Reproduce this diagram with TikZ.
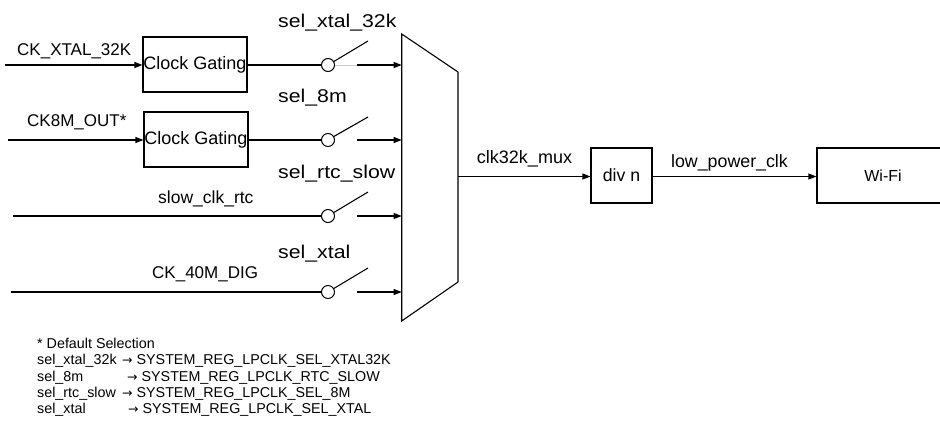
\documentclass[tikz,border=0pt]{standalone}
\usepackage{fontspec}
\setmainfont{Liberation Sans}
\newfontfamily\symfont{DejaVu Sans}
\usetikzlibrary{arrows.meta}
\newcommand{\fsz}[1]{\fontsize{#1}{#1}\selectfont}
\newcommand{\selw}[1]{\scalebox{1.15}[1]{#1}}
\newcommand{\rarr}{{\symfont\fontsize{12.5}{12.5}\selectfont →}}
\tikzset{
  wire/.style={line width=1.1pt},
  arr/.style={wire,-{Triangle[length=8pt,width=6pt]}},
  blk/.style={draw,line width=1.1pt,inner sep=0pt,minimum height=55pt},
  swc/.style={draw,circle,line width=1pt,minimum size=13pt,inner sep=0pt,fill=white},
  lbl/.style={anchor=base west,inner sep=0pt},
  clbl/.style={anchor=base,inner sep=0pt},
}
\begin{document}
\begin{tikzpicture}[x=1pt,y=-1pt]
\clip (0,0) rectangle (940,437);
\fill[white] (0,0) rectangle (940,437);

% blocks
\node[blk,minimum width=104pt,font=\fsz{18}] (cg1) at (195,64.5) {Clock Gating};
\node[blk,minimum width=104pt,font=\fsz{18}] (cg2) at (196,139.5) {Clock Gating};
\node[blk,minimum width=61pt,font=\fsz{17.7}] (div) at (621.5,175.5) {div n};
\node[blk,minimum width=132pt,font=\fsz{16}] (wifi) at (883,175.5) {Wi-Fi};

% mux
\coordinate (m1) at (401.7,34);
\coordinate (m2) at (458,72);
\coordinate (m3) at (458,282);
\coordinate (m4) at (401.7,321);
\draw[wire,line join=miter] (m1) -- (m2) -- (m3) -- (m4) -- cycle;

% input coordinates
\coordinate (in1) at (5,65);
\coordinate (in2) at (8,140);
\coordinate (in3) at (13,216);
\coordinate (in4) at (11,292);

% switches
\node[swc] (sw1) at (328,65) {};
\node[swc] (sw2) at (328,140) {};
\node[swc] (sw3) at (328,216) {};
\node[swc] (sw4) at (328,292) {};
\coordinate (a1) at (368,41);
\coordinate (a2) at (368,117);
\coordinate (a3) at (368,192);
\coordinate (a4) at (368,268);
\coordinate (g1) at (357,65);
\coordinate (g2) at (357,140);
\coordinate (g3) at (357,216);
\coordinate (g4) at (357,292);

% row 1
\draw[arr] (in1) -- (in1 -| cg1.west);
\draw[wire] (cg1.east |- sw1) -- (sw1.west);
\draw[wire] (sw1.31) -- (a1);
\draw[line width=1pt,black!20] (sw1.east) -- (g1);
\draw[arr] (g1) -- (g1 -| m1);
% row 2
\draw[arr] (in2) -- (in2 -| cg2.west);
\draw[wire] (cg2.east |- sw2) -- (sw2.west);
\draw[wire] (sw2.31) -- (a2);
\draw[arr] (g2) -- (g2 -| m1);
% row 3
\draw[wire] (in3) -- (sw3.west);
\draw[wire] (sw3.31) -- (a3);
\draw[arr] (g3) -- (g3 -| m1);
% row 4
\draw[wire] (in4) -- (sw4.west);
\draw[wire] (sw4.31) -- (a4);
\draw[arr] (g4) -- (g4 -| m1);

% output chain
\coordinate (mo) at (458,176.5);
\draw[arr] (mo) -- (mo -| div.west);
\draw[arr] (div.east |- mo) -- (mo -| wifi.west);

% signal labels
\node[lbl,font=\fsz{17}] (l1) at (17,55) {CK\_XTAL\_32K};
\node[lbl,font=\fsz{17}] (l2) at (27,126) {CK8M\_OUT*};
\node[lbl,font=\fsz{17.5}] (l3) at (158,203) {slow\_clk\_rtc};
\node[lbl,font=\fsz{17}] (l4) at (152,278) {CK\_40M\_DIG};
\node[clbl,font=\fsz{18}] (lm) at (524.5,163) {clk32k\_mux};
\node[clbl,font=\fsz{17.8}] (lp) at (729.5,167) {low\_power\_clk};

% select labels
\node[lbl,font=\fsz{18.5}] (s1) at (278,27) {\selw{sel\_xtal\_32k}};
\node[lbl,font=\fsz{18.5}] (s2) at (278,102) {\selw{sel\_8m}};
\node[lbl,font=\fsz{18.5}] (s3) at (278,178) {\selw{sel\_rtc\_slow}};
\node[lbl,font=\fsz{18.5}] (s4) at (278,258) {\selw{sel\_xtal}};

% notes
\node[lbl,font=\fsz{14.3}] (n0) at (37,348) {* Default Selection};
\node[lbl,font=\fsz{14.3}] (n1) at (37,364.5) {sel\_xtal\_32k};
\node[lbl,font=\fsz{14.3}] (n2) at (37,381) {sel\_8m};
\node[lbl,font=\fsz{14.3}] (n3) at (37,397) {sel\_rtc\_slow};
\node[lbl,font=\fsz{14.3}] (n4) at (37,413) {sel\_xtal};
\node[lbl,font=\fsz{14.3}] (r1) at (122,364.5) {\rarr\ SYSTEM\_REG\_LPCLK\_SEL\_XTAL32K};
\node[lbl,font=\fsz{14.3}] (r2) at (127,381) {\rarr\ SYSTEM\_REG\_LPCLK\_RTC\_SLOW};
\node[lbl,font=\fsz{14.3}] (r3) at (122,397) {\rarr\ SYSTEM\_REG\_LPCLK\_SEL\_8M};
\node[lbl,font=\fsz{14.3}] (r4) at (128,413) {\rarr\ SYSTEM\_REG\_LPCLK\_SEL\_XTAL};
\end{tikzpicture}
\end{document}
